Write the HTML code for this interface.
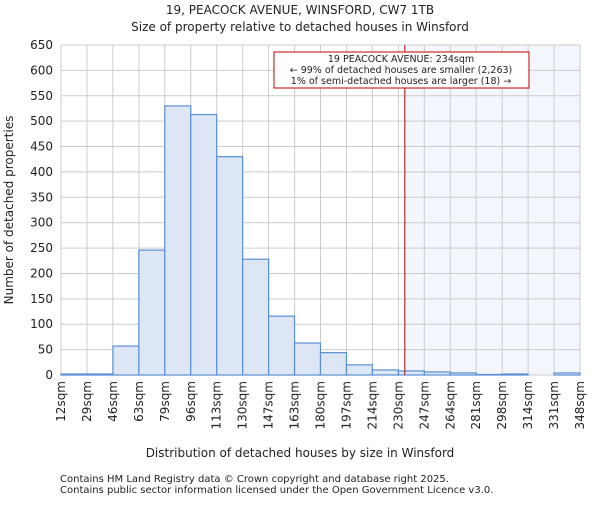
<!DOCTYPE html>
<html><head><meta charset="utf-8"><style>
body{margin:0;background:#fff;font-family:"Liberation Sans","DejaVu Sans",sans-serif}
svg text{font-family:"DejaVu Sans","Liberation Sans",sans-serif;fill:#222}
</style></head><body>
<svg id="c" width="600" height="500">
<text x="300" y="14" text-anchor="middle" font-size="12">19, PEACOCK AVENUE, WINSFORD, CW7 1TB</text>
<text x="300" y="31" text-anchor="middle" font-size="12">Size of property relative to detached houses in Winsford</text>
<g id="plot"></g>
<text x="300" y="457" text-anchor="middle" font-size="12">Distribution of detached houses by size in Winsford</text>
<text transform="translate(13,210) rotate(-90)" text-anchor="middle" font-size="12">Number of detached properties</text>
<text x="60" y="482" font-size="10">Contains HM Land Registry data © Crown copyright and database right 2025.</text>
<text x="60" y="493" font-size="10">Contains public sector information licensed under the Open Government Licence v3.0.</text>
</svg>
<script>
const binLabels=["12sqm","29sqm","46sqm","63sqm","79sqm","96sqm","113sqm","130sqm","147sqm","163sqm","180sqm","197sqm","214sqm","230sqm","247sqm","264sqm","281sqm","298sqm","314sqm","331sqm","348sqm"];
const counts=[2,2,57,246,530,513,430,228,116,63,44,20,10,8,6,4,1,2,0,4];
const yTicks=[0,50,100,150,200,250,300,350,400,450,500,550,600,650];
const propertyBinPos=13.25;
const NS="http://www.w3.org/2000/svg";
const L=61,R=580,T=45,B=375;
const n=counts.length,bw=(R-L)/n;
const x=i=>L+i*bw;
const y=v=>B-v/650*(B-T);
const g=document.getElementById('plot');
function mk(t,a){const e=document.createElementNS(NS,t);for(const k in a)e.setAttribute(k,a[k]);g.appendChild(e);return e;}
const px=x(propertyBinPos);
let e=mk('rect',{x:px,y:T,width:R-px,height:B-T,fill:'#f3f6fd'});


yTicks.forEach(v=>{
 let l=mk('line',{x1:L,x2:R,y1:y(v),y2:y(v),stroke:'#cccccc'});
 
 
 let t=mk('text',{x:L-8,y:y(v)+4,'text-anchor':'end','font-size':'12'});t.textContent=v;
 
 
});
binLabels.forEach((s,i)=>{
 let l=mk('line',{x1:x(i),x2:x(i),y1:T,y2:B,stroke:'#cccccc'});
 
 
 let t=mk('text',{transform:`translate(${x(i)+4},${B+6}) rotate(-90)`,'font-size':'12','text-anchor':'end'});t.textContent=s;
 
 
});
counts.forEach((v,i)=>{
 if(v<=0)return;
 let r=mk('rect',{x:x(i),y:y(v),width:bw,height:B-y(v),fill:'#dde6f4',stroke:'#5b8fd4','stroke-width':1.2});
 
 
});
e=mk('line',{x1:px,x2:px,y1:T,y2:B,stroke:'#b00000','stroke-width':1});


e=mk('rect',{x:274,y:52,width:255,height:36,fill:'#fff',stroke:'#c00000'});


["19 PEACOCK AVENUE: 234sqm","← 99% of detached houses are smaller (2,263)","1% of semi-detached houses are larger (18) →"].forEach((s,i)=>{
 let t=mk('text',{x:401,y:62+i*11,'text-anchor':'middle','font-size':'9.5'});t.textContent=s;
 
 
});
</script>
</body></html>
